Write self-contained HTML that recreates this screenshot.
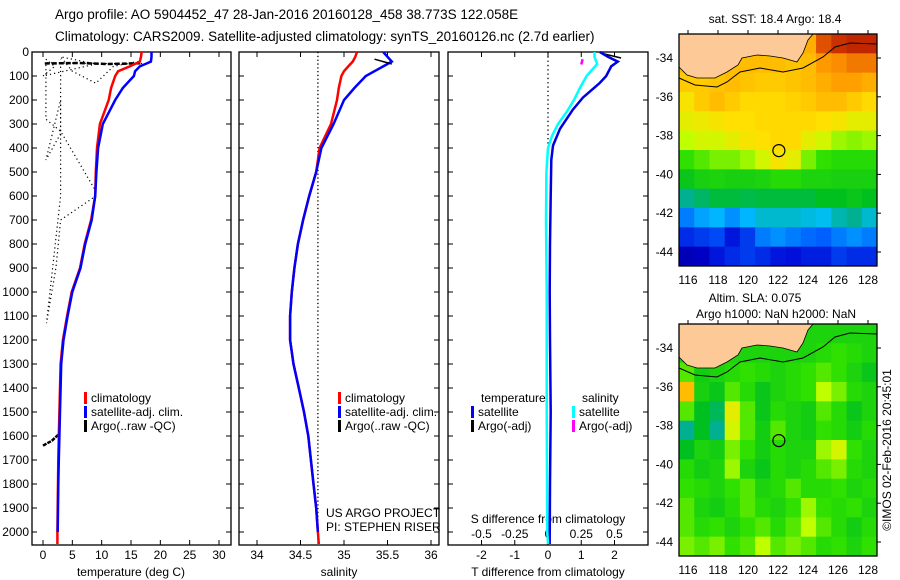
<!DOCTYPE html>
<html><head><meta charset="utf-8">
<style>
body{margin:0;background:#fff;}
svg{display:block;font-family:"Liberation Sans",sans-serif;}
</style></head>
<body>
<svg id="fig" width="900" height="580" viewBox="0 0 900 580" xmlns="http://www.w3.org/2000/svg">
<text x="55" y="19" font-size="13.5">Argo profile: AO 5904452_47 28-Jan-2016 20160128_458 38.773S 122.058E</text>
<text x="55" y="41" font-size="13.5">Climatology: CARS2009. Satellite-adjusted climatology: synTS_20160126.nc (2.7d earlier)</text>
</svg>
<script>
// ---------- data ----------
const depthTicks=[0,100,200,300,400,500,600,700,800,900,1000,1100,1200,1300,1400,1500,1600,1700,1800,1900,2000];
const tempTicks=[0,5,10,15,20,25,30];
const salTicks=[34,34.5,35,35.5,36];
const salTickLabels=["34","34.5","35","35.5","36"];
const tdiffTicks=[-2,-1,0,1,2];
const sdiffTicks=[-0.5,-0.25,0,0.25,0.5];
const sdiffTickLabels=["-0.5","-0.25","0","0.25","0.5"];

const climDepth=[0,20,40,60,80,100,150,200,300,400,500,600,700,800,900,1000,1100,1200,1300,1400,1500,1600,1700,1800,1900,2000,2050];
const climTemp=[16.8,16.7,16.5,14.8,12.8,12.3,11.6,11.2,9.7,9.2,9.0,8.9,8.2,7.1,6.3,4.9,4.1,3.4,3.0,2.9,2.8,2.7,2.6,2.55,2.5,2.45,2.45];
const satDepth=[0,20,40,60,80,100,150,200,300,400,500,600,700,800,900,1000,1100,1200,1300,1400,1500,1600,1700,1800,1900,2000];
const satTemp=[18.5,18.5,18.4,16.5,15.7,15.5,13.6,12.3,10.2,9.4,9.1,8.9,8.3,7.2,6.4,5.0,4.2,3.5,3.1,3.0,2.9,2.8,2.7,2.6,2.55,2.5];
const climSal=[35.15,35.13,35.1,35.05,35.0,34.97,34.94,34.92,34.85,34.72,34.68,34.6,34.53,34.47,34.43,34.4,34.38,34.38,34.42,34.48,34.54,34.59,34.62,34.65,34.68,34.7,34.71];
const satSal=[35.45,35.5,35.55,35.45,35.35,35.25,35.12,35.0,34.88,34.74,34.68,34.6,34.53,34.47,34.43,34.4,34.38,34.38,34.42,34.48,34.54,34.59,34.62,34.65,34.68,34.7];
const argoRawDepth=[30,60,100,50,20,80,130,60,40,50,45,280,330,580,600,700,800,900,1000,1130,600,200,450,340,150,30];
const argoRawTemp=[0.5,2,0,9,3,5,9,12,16,17,0.5,0.5,3,9,9,3,2.6,2.2,1.5,0.6,3,3,0.5,3,3,3];
const argoSpikeDepth=[48,46,50,47];
const argoSpikeTemp=[0.3,6,11,16.5];
const argoDeepDepth=[1640,1620,1590];
const argoDeepTemp=[0,1.5,2.8];
const argoSalDepth=[30,40,50];
const argoSalVal=[35.35,35.45,35.55];
const tdiffDepth=[0,20,40,60,100,130,190,240,320,390,450,600,800,1000,1200,1500,1800,2050];
const tdiffSat=[1.56,1.8,2.1,1.9,1.75,1.55,1.05,0.75,0.36,0.15,0.1,0.08,0.06,0.05,0.06,0.08,0.06,0.05];
const sdiffDepth=[0,20,50,100,150,200,250,300,350,400,500,700,1000,1500,2000,2050];
const sdiffSat=[0.35,0.35,0.37,0.29,0.24,0.195,0.14,0.075,0.03,0,-0.012,-0.015,-0.01,-0.01,-0.005,0];
const tdiffArgoDepth=[5,15,25];
const tdiffArgoVal=[1.6,1.9,2.2];
const sdiffArgoDepth=[30,52];
const sdiffArgoVal=[0.26,0.25];

const sstGrid=[
[0.80,0.80,0.80,0.80,0.80,0.80,0.80,0.80,0.82,0.92,0.95,0.96,0.96],
[0.80,0.80,0.80,0.80,0.80,0.80,0.80,0.79,0.80,0.85,0.86,0.88,0.88],
[0.78,0.78,0.79,0.80,0.79,0.78,0.78,0.79,0.80,0.82,0.84,0.84,0.82],
[0.74,0.78,0.80,0.78,0.76,0.76,0.76,0.77,0.78,0.80,0.80,0.78,0.76],
[0.72,0.73,0.74,0.75,0.75,0.76,0.76,0.76,0.76,0.75,0.74,0.72,0.72],
[0.68,0.70,0.70,0.72,0.74,0.75,0.76,0.76,0.72,0.70,0.66,0.65,0.66],
[0.60,0.62,0.64,0.64,0.66,0.70,0.74,0.72,0.64,0.60,0.58,0.58,0.58],
[0.52,0.55,0.56,0.55,0.55,0.56,0.58,0.58,0.56,0.56,0.55,0.55,0.55],
[0.42,0.45,0.48,0.48,0.47,0.48,0.48,0.48,0.48,0.50,0.50,0.52,0.50],
[0.28,0.32,0.34,0.30,0.34,0.38,0.38,0.38,0.37,0.36,0.40,0.42,0.38],
[0.18,0.20,0.22,0.15,0.20,0.28,0.30,0.28,0.26,0.25,0.28,0.30,0.28],
[0.08,0.10,0.15,0.18,0.20,0.18,0.15,0.14,0.16,0.16,0.20,0.18,0.18]];
const slaGrid=[
[0.56,0.56,0.56,0.56,0.56,0.56,0.56,0.56,0.56,0.56,0.56,0.56,0.56],
[0.56,0.56,0.56,0.56,0.56,0.56,0.56,0.56,0.56,0.58,0.60,0.58,0.56],
[0.62,0.54,0.56,0.58,0.60,0.58,0.56,0.58,0.60,0.62,0.60,0.56,0.52],
[0.80,0.55,0.52,0.62,0.58,0.52,0.56,0.58,0.60,0.68,0.64,0.58,0.56],
[0.62,0.50,0.46,0.72,0.62,0.52,0.58,0.56,0.54,0.62,0.58,0.52,0.56],
[0.42,0.50,0.42,0.70,0.62,0.54,0.62,0.56,0.54,0.60,0.58,0.54,0.58],
[0.50,0.56,0.54,0.64,0.60,0.54,0.58,0.56,0.56,0.66,0.70,0.60,0.56],
[0.58,0.54,0.56,0.66,0.56,0.52,0.58,0.56,0.58,0.62,0.64,0.58,0.56],
[0.60,0.58,0.56,0.60,0.62,0.56,0.58,0.62,0.58,0.58,0.60,0.56,0.58],
[0.62,0.56,0.54,0.58,0.62,0.58,0.56,0.60,0.66,0.60,0.58,0.60,0.56],
[0.62,0.58,0.60,0.56,0.60,0.62,0.58,0.62,0.68,0.62,0.58,0.54,0.58],
[0.64,0.62,0.64,0.60,0.62,0.68,0.62,0.64,0.62,0.58,0.60,0.56,0.60]];
const lonTicks=[116,118,120,122,124,126,128];
const latTicks=[-34,-36,-38,-40,-42,-44];
const argoLon=122.058, argoLat=-38.773;

// ---------- helpers ----------
const NS="http://www.w3.org/2000/svg";
const svg=document.getElementById('fig');
function mk(tag,attrs,parent){const e=document.createElementNS(NS,tag);for(const k in attrs)e.setAttribute(k,attrs[k]);(parent||svg).appendChild(e);return e;}
const PT=52, PB=545;
const yD=d=>PT+d*(532-PT)/2000;
const xT=t=>43+t*(219-43)/30;
const xS=s=>257+(s-34)*(431-257)/2;
const xTD=v=>548+v*(614-481)/4;
const xSDp=v=>548+v*(614-481);

function line(xs,ys,xf,color,w,dash,name){
  const pts=xs.map((v,i)=>xf(v).toFixed(1)+','+yD(ys[i]).toFixed(1)).join(' ');
  const p=mk('polyline',{points:pts,fill:'none',stroke:color,'stroke-width':w});
  if(dash)p.setAttribute('stroke-dasharray',dash);
  
  
  return p;
}
function txt(x,y,s,opts,name){
  const t=mk('text',Object.assign({x:x,y:y,'font-size':12},opts||{}));t.textContent=s;
  
  
  return t;
}
function panel(x0,x1,name){
  const r=mk('rect',{x:x0,y:PT,width:x1-x0,height:PB-PT,fill:'none',stroke:'#000','stroke-width':1.3});
  
  
}
function xticks(vals,labels,xf,name,ybase){
  vals.forEach((v,i)=>{
    const x=xf(v);
    const a=mk('line',{x1:x,x2:x,y1:PB,y2:PB-5,stroke:'#000'});
    
    
    const b=mk('line',{x1:x,x2:x,y1:PT,y2:PT+5,stroke:'#000'});
    
    
    txt(x,ybase,labels[i],{'text-anchor':'middle'},name+'-label');
  });
}
function yticks(x0,x1){
  depthTicks.forEach(d=>{
    const a=mk('line',{x1:x0,x2:x0+5,y1:yD(d),y2:yD(d),stroke:'#000'});
    
    
    const b=mk('line',{x1:x1,x2:x1-5,y1:yD(d),y2:yD(d),stroke:'#000'});
    
    
  });
}
function legendEntry(x,y,color,label,name){
  const r=mk('rect',{x:x,y:y-10,width:3,height:12,fill:color});
  
  
  txt(x+7,y,label,{},name);
}

// ---------- panel 1: temperature ----------
panel(32,231,'temperature-panel');
yticks(32,231);
depthTicks.forEach(d=>txt(29,yD(d)+4,String(d),{'text-anchor':'end'},'depth-tick-label'));
xticks(tempTicks,tempTicks.map(String),xT,'temperature-axis',559);
txt(131,576,'temperature (deg C)',{'text-anchor':'middle'},'temperature-axis-title');
line(argoRawTemp,argoRawDepth,xT,'#000',1.2,'1.2 3','argo-raw-temperature');
line(argoSpikeTemp,argoSpikeDepth,xT,'#000',2.5,'5 2','argo-temperature-spike');
line(argoDeepTemp,argoDeepDepth,xT,'#000',2.5,'4 1','argo-temperature-deep-spike');
line(climTemp,climDepth,xT,'#f00',2.5,null,'climatology-temperature-line');
line(satTemp,satDepth,xT,'#00f',2.5,null,'satellite-temperature-line');
legendEntry(84,402,'#f00','climatology','legend-climatology');
legendEntry(84,416,'#00f','satellite-adj. clim.','legend-satellite');
legendEntry(84,430,'#000','Argo(..raw -QC)','legend-argo');

// ---------- panel 2: salinity ----------
panel(239,439,'salinity-panel');
yticks(239,439);
xticks(salTicks,salTickLabels,xS,'salinity-axis',559);
txt(339,576,'salinity',{'text-anchor':'middle'},'salinity-axis-title');
const vs=mk('line',{x1:xS(34.7),x2:xS(34.7),y1:PT,y2:PB,stroke:'#000','stroke-width':1.3,'stroke-dasharray':'1.3 2.5'});


line(climSal,climDepth,xS,'#f00',2.5,null,'climatology-salinity-line');
line(satSal,satDepth,xS,'#00f',2.5,null,'satellite-salinity-line');
line(argoSalVal,argoSalDepth,xS,'#000',1.5,null,'argo-salinity-line');
legendEntry(338,402,'#f00','climatology','legend-sal-climatology');
legendEntry(338,416,'#00f','satellite-adj. clim.','legend-sal-satellite');
legendEntry(338,430,'#000','Argo(..raw -QC)','legend-sal-argo');
txt(326,517,'US ARGO PROJECT',{},'project-label');
txt(326,531,'PI: STEPHEN RISER',{},'pi-label');

// ---------- panel 3: differences ----------
panel(448,648,'difference-panel');
yticks(448,648);
xticks(tdiffTicks,tdiffTicks.map(String),xTD,'tdiff-axis',559);
txt(548,576,'T difference from climatology',{'text-anchor':'middle'},'tdiff-axis-title');
sdiffTicks.forEach((v,i)=>{
  txt(xSDp(v),538,sdiffTickLabels[i],{'text-anchor':'middle'},'sdiff-tick-label');
});
txt(548,523,'S difference from climatology',{'text-anchor':'middle'},'sdiff-axis-title');
const vd=mk('line',{x1:548,x2:548,y1:PT,y2:yD(420),stroke:'#000','stroke-width':1.3,'stroke-dasharray':'1.3 3'});


line(tdiffArgoVal,tdiffArgoDepth,xTD,'#000',1.5,null,'argo-tdiff-line');
line(tdiffSat,tdiffDepth,xTD,'#0000e0',2.5,null,'satellite-tdiff-line');
line(sdiffSat,sdiffDepth,xSDp,'#0ff',2.5,null,'satellite-sdiff-line');
line(sdiffArgoVal,sdiffArgoDepth,xSDp,'#f0f',2.5,null,'argo-sdiff-line');
txt(481,402,'temperature',{},'legend-temperature-header');
txt(582,402,'salinity',{},'legend-salinity-header');
legendEntry(471,416,'#00f','satellite','legend-tdiff-satellite');
legendEntry(471,430,'#000','Argo(-adj)','legend-tdiff-argo');
legendEntry(572,416,'#0ff','satellite','legend-sdiff-satellite');
legendEntry(572,430,'#f0f','Argo(-adj)','legend-sdiff-argo');

// ---------- maps ----------
const palStops=[[0,[0,0,128]],[0.12,[0,0,210]],[0.25,[0,96,255]],[0.35,[0,192,255]],[0.42,[0,176,144]],[0.5,[0,192,32]],[0.6,[48,224,0]],[0.68,[192,255,0]],[0.75,[255,224,0]],[0.85,[255,153,0]],[0.93,[221,68,0]],[1,[153,0,0]]];
function pal(v){
  for(let i=1;i<palStops.length;i++){
    if(v<=palStops[i][0]){const a=palStops[i-1],b=palStops[i];const f=(v-a[0])/(b[0]-a[0]);
      return 'rgb('+a[1].map((c,k)=>Math.round(c+(b[1][k]-c)*f)).join(',')+')';}
  }
  return 'rgb(153,0,0)';
}
function drawMap(y0,grid,name,labelY){
  const X0=679,X1=877,Y1=y0+232;
  const mx=lon=>688+(lon-116)*15;
  const my=lat=>y0+24+(-34-lat)*19.4;
  const g=mk('g',{});
  
  
  const rows=grid.length, cols=grid[0].length;
  const cw=(X1-X0)/cols, ch=(Y1-y0)/rows;
  grid.forEach((row,r)=>row.forEach((v,c)=>{
    const cell=mk('rect',{x:(X0+c*cw).toFixed(2),y:(y0+r*ch).toFixed(2),width:(cw+0.5).toFixed(2),height:(ch+0.5).toFixed(2),fill:pal(v)},g);
    
    
  }));
  const o=y0-34;
  const coast=[[679,67],[687,75],[697,78],[715,78],[727,72],[738,65],[742,58],[757,55],[770,56],[783,58],[797,62],[803,53],[808,40],[813,34]];
  const land=mk('polygon',{points:'679,'+y0+' '+coast.map(p=>p[0]+','+(p[1]+o)).join(' ')+' 813,'+y0,fill:'#fcc997',stroke:'#000','stroke-width':0.8},g);
  
  
  const bathy=[[679,78],[695,85],[717,87],[727,82],[740,72],[760,68],[783,72],[803,68],[823,57],[835,47],[850,43],[877,44]];
  const bl=mk('polyline',{points:bathy.map(p=>p[0]+','+(p[1]+o)).join(' '),fill:'none',stroke:'#000','stroke-width':1},g);
  
  
  const c=mk('circle',{cx:mx(argoLon),cy:my(argoLat),r:6,fill:'none',stroke:'#000','stroke-width':1.2},g);
  
  
  const fr=mk('rect',{x:X0,y:y0,width:X1-X0,height:Y1-y0,fill:'none',stroke:'#000','stroke-width':1.3},g);
  
  
  lonTicks.forEach(l=>{
    const t=mk('line',{x1:mx(l),x2:mx(l),y1:y0-4,y2:y0,stroke:'#000'},g);
    
    
    txt(mx(l),labelY,String(l),{'text-anchor':'middle'},name+'-lon-label');
  });
  latTicks.forEach(l=>{
    const t=mk('line',{x1:X1,x2:X1+4,y1:my(l),y2:my(l),stroke:'#000'},g);
    
    
    txt(673,my(l)+4,String(l),{'text-anchor':'end'},name+'-lat-label');
  });
}
drawMap(34,sstGrid,'sst-map',284);
drawMap(324,slaGrid,'sla-map',574);
txt(775,23,'sat. SST: 18.4 Argo: 18.4',{'text-anchor':'middle'},'sst-map-title');
txt(755,302,'Altim. SLA: 0.075',{'text-anchor':'middle'},'sla-map-title');
txt(776,318,'Argo h1000: NaN h2000: NaN',{'text-anchor':'middle'},'sla-map-subtitle');
txt(0,0,'©IMOS 02-Feb-2016 20:45:01',{'text-anchor':'middle',transform:'translate(891,450) rotate(-90)'},'imos-timestamp');
</script>
</body></html>
